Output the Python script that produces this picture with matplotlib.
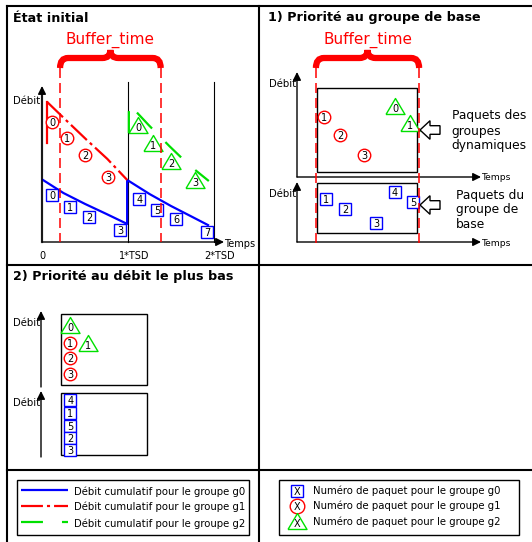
import matplotlib
matplotlib.use("Agg")
import matplotlib.pyplot as plt
from matplotlib.patches import PathPatch, Polygon, Rectangle
from matplotlib.path import Path
from matplotlib.transforms import Affine2D

plt.rcParams["font.family"] = ["DejaVu Sans"]
plt.rcParams["lines.scale_dashes"] = False

# ---- data: time in TSD units, débit in arbitrary units ----
# "État initial": cumulative débit per group
g0_t = [0.01, 0.25, 0.5, 0.75, 0.99, 0.99, 1.25, 1.5, 1.75, 1.93]
g0_debit = [3.88, 3.06, 2.38, 1.75, 1.13, 3.88, 3.0, 2.25, 1.56, 1.06]
g1_t = [0.06, 0.06, 0.29, 0.52, 0.76, 0.99]
g1_debit = [6.19, 8.75, 7.56, 6.38, 5.19, 3.88]
g2_t = [1.01, 1.01, 1.24, 1.48, 1.71, 1.94]
g2_debit = [6.81, 8.63, 7.31, 6.0, 4.81, 3.81]

# packets of the initial state (packet number = index)
init_g0_t = [0.12, 0.33, 0.55, 0.91, 1.13, 1.34, 1.56, 1.92]
init_g0_debit = [2.94, 2.19, 1.56, 0.75, 2.69, 2.0, 1.44, 0.63]
init_g1_t = [0.12, 0.29, 0.5, 0.77]
init_g1_debit = [7.5, 6.5, 5.44, 4.06]
init_g2_t = [1.12, 1.29, 1.5, 1.78]
init_g2_debit = [7.31, 6.19, 5.06, 3.88]

tick_t = [0, 1, 2]
tick_labels = ["0", "1*TSD", "2*TSD"]
buffer_init = (0.21, 1.38)

# "1) Priorité au groupe de base"
base_g1_ids = [1, 2, 3]
base_g1_t = [0.31, 0.5, 0.78]
base_g1_debit = [3.75, 2.63, 1.38]
base_g2_ids = [0, 1]
base_g2_t = [1.14, 1.31]
base_g2_debit = [4.44, 3.38]
base_g0_ids = [1, 2, 3, 4, 5]
base_g0_t = [0.34, 0.56, 0.92, 1.14, 1.35]
base_g0_debit = [2.69, 2.06, 1.19, 3.13, 2.5]
buffer_base = (0.22, 1.42)

# "2) Priorité au débit le plus bas"
low_g2_ids = [0, 1]
low_g2_t = [0.34, 0.55]
low_g2_debit = [3.88, 2.75]
low_g1_ids = [1, 2, 3]
low_g1_t = [0.34, 0.34, 0.34]
low_g1_debit = [2.75, 1.79, 0.81]
low_g0_ids = [4, 1, 5, 2, 3]
low_g0_t = [0.34, 0.34, 0.34, 0.34, 0.34]
low_g0_debit = [3.56, 2.73, 1.96, 1.17, 0.44]

BLUE = "#0000ff"
RED = "#ff0000"
GREEN = "#00e000"
RED_DASH = (15.8, 2.9, 2.2, 2.9)
GREEN_DASH = (15.8, 13.7)
TRI = [(-1, -0.84), (1, -0.84), (0, 0.84), (-1, -0.84)]

W, H = 532, 542
fig = plt.figure(figsize=(W / 100, H / 100), dpi=100)
ax = fig.add_axes([0, 0, 1, 1])
ax.set_xlim(0, W)
ax.set_ylim(H, 0)
ax.axis("off")


def panel(x0, y0, sx=86.0, sy=16.0):
    """(time, débit) -> figure pixels for one sketch."""
    return Affine2D().scale(sx, -sy).translate(x0, y0) + ax.transData


def to_px(tr, t, d):
    return ax.transData.inverted().transform(tr.transform((t, d)))


def arrow(x0, y0, x1, y1, color="black", lw=1.0):
    ax.annotate("", xy=(x1, y1), xytext=(x0, y0),
                arrowprops=dict(arrowstyle="-|>,head_length=0.6,head_width=0.3",
                                mutation_scale=8, color=color, lw=lw,
                                shrinkA=0, shrinkB=0))


def packets(tr, t, d, ids, kind, color):
    marker, ms, dy = {"s": ("s", 9, 0), "o": ("o", 9, 0),
                      "^": (TRI, 13.7, -1.5)}[kind]
    ax.plot(t, d, ls="none", marker=marker, ms=ms, mfc="white", mec=color,
            mew=1.0, transform=tr, zorder=4)
    for ti, di, k in zip(t, d, ids):
        ax.annotate(str(k), (ti, di), xycoords=tr, xytext=(0, dy),
                    textcoords="offset points", ha="center",
                    va="center_baseline", fontsize=7, zorder=5)


def brace_and_buffer(tr, interval, y_top, y_bottom):
    xl = to_px(tr, interval[0], 0)[0]
    xr = to_px(tr, interval[1], 0)[0]
    xm = (xl + xr) / 2
    yb, yh, yt = 68, 58, 50
    verts = [(xl, yb), (xl, yh), (xl + 8, yh), (xm - 8, yh), (xm, yh), (xm, yt),
             (xm, yh), (xm + 8, yh), (xr - 8, yh), (xr, yh), (xr, yb)]
    codes = [Path.MOVETO, Path.CURVE3, Path.CURVE3, Path.LINETO, Path.CURVE3,
             Path.CURVE3, Path.CURVE3, Path.CURVE3, Path.LINETO, Path.CURVE3,
             Path.CURVE3]
    ax.add_patch(PathPatch(Path(verts, codes), fc="none", ec=RED, lw=4.5,
                           capstyle="butt", zorder=3))
    ax.text(xm, 43.3, "Buffer_time", color=RED, fontsize=11, ha="center",
            va="baseline")
    for x in (xl, xr):
        ax.plot([x, x], [y_top, y_bottom], color=RED, lw=1.1,
                dashes=(7.2, 3.6), zorder=6)


def outline_arrow(x_tip, y):
    pts = [(x_tip, y), (x_tip + 10, y - 9.3), (x_tip + 10, y - 4.3),
           (x_tip + 20, y - 4.3), (x_tip + 20, y + 4.3), (x_tip + 10, y + 4.3),
           (x_tip + 10, y + 9.3)]
    ax.add_patch(Polygon(pts, closed=True, fc="white", ec="black", lw=1.0,
                         zorder=5))


# ---- frame ----
frame_kw = dict(color="black", lw=1.5, solid_capstyle="projecting")
ax.plot([6.7, 6.7], [6, 541], **frame_kw)
ax.plot([6.7, 531], [6, 6], **frame_kw)
ax.plot([259, 259], [6, 541], **frame_kw)
ax.plot([6.7, 531], [265, 265], **frame_kw)
ax.plot([6.7, 531], [470.3, 470.3], **frame_kw)

title_kw = dict(fontsize=9.2, fontweight="bold", va="baseline")
ax.text(13, 21.7, "État initial", **title_kw)
ax.text(268, 20.7, "1) Priorité au groupe de base", **title_kw)
ax.text(13, 280, "2) Priorité au débit le plus bas", **title_kw)

# ---- État initial ----
tr1 = panel(42, 242)
brace_and_buffer(tr1, buffer_init, 68, 242)
for t in (1, 2):
    ax.plot([t, t], [0, 10], color="black", lw=0.8, transform=tr1, zorder=1)
ax.plot([0, 0], [0, 9.5], color="#555555", lw=1.6, transform=tr1, zorder=1)
arrow(42, 242, 42, 86)
arrow(42, 242, 224, 242)
ax.text(40.7, 104, "Débit", fontsize=7.3, ha="right", va="baseline")
ax.text(224, 246.7, "Temps", fontsize=7, ha="left", va="baseline")
for t, lab in zip(tick_t, tick_labels):
    ax.annotate(lab, (t, 0), xycoords=tr1, xytext=(4.3 if t else 0, -12.5),
                textcoords="offset points", ha="center", va="baseline",
                fontsize=7)

ax.plot(g0_t, g0_debit, color=BLUE, lw=1.6, transform=tr1, zorder=2)
ax.plot(g1_t[:2], g1_debit[:2], color=RED, lw=1.6, transform=tr1, zorder=2)
ax.plot(g1_t[1:], g1_debit[1:], color=RED, lw=1.6, dashes=RED_DASH,
        transform=tr1, zorder=2)
ax.plot(g2_t, g2_debit, color=GREEN, lw=1.6, dashes=GREEN_DASH,
        transform=tr1, zorder=2)

packets(tr1, init_g0_t, init_g0_debit, range(len(init_g0_t)), "s", BLUE)
packets(tr1, init_g1_t, init_g1_debit, range(len(init_g1_t)), "o", RED)
packets(tr1, init_g2_t, init_g2_debit, range(len(init_g2_t)), "^", GREEN)

# ---- 1) Priorité au groupe de base ----
tr2a = panel(297, 177)
tr2b = panel(297, 242)
brace_and_buffer(tr2a, buffer_base, 68, 244)
ax.add_patch(Rectangle((317, 88), 100, 84, fc="none", ec="black", lw=1.0))
ax.add_patch(Rectangle((317, 183), 100, 50, fc="none", ec="black", lw=1.0))
arrow(297, 177, 297, 72)
arrow(297, 177, 481, 177)
arrow(297, 242, 297, 182)
arrow(297, 242, 481, 242)
ax.text(296, 86.7, "Débit", fontsize=7.3, ha="right", va="baseline")
ax.text(296, 196.7, "Débit", fontsize=7.3, ha="right", va="baseline")
ax.text(481.7, 180, "Temps", fontsize=6.6, ha="left", va="baseline")
ax.text(481.7, 246, "Temps", fontsize=6.6, ha="left", va="baseline")
packets(tr2a, base_g1_t, base_g1_debit, base_g1_ids, "o", RED)
packets(tr2a, base_g2_t, base_g2_debit, base_g2_ids, "^", GREEN)
packets(tr2b, base_g0_t, base_g0_debit, base_g0_ids, "s", BLUE)
outline_arrow(420, 130)
outline_arrow(420, 205)
ax.text(451.7, 131, "Paquets des\ngroupes\ndynamiques", fontsize=8.8,
        ha="left", va="center", linespacing=1.2)
ax.text(456, 210, "Paquets du\ngroupe de\nbase", fontsize=8.8,
        ha="left", va="center", linespacing=1.2)

# ---- 2) Priorité au débit le plus bas ----
tr3a = panel(41, 387)
tr3b = panel(41, 457)
ax.add_patch(Rectangle((61, 314), 86, 71, fc="none", ec="black", lw=1.0))
ax.add_patch(Rectangle((61, 393), 86, 62, fc="none", ec="black", lw=1.0))
arrow(41, 387, 41, 311)
arrow(41, 457, 41, 391)
ax.text(40, 326, "Débit", fontsize=7.3, ha="right", va="baseline")
ax.text(40, 405.7, "Débit", fontsize=7.3, ha="right", va="baseline")
packets(tr3a, low_g2_t, low_g2_debit, low_g2_ids, "^", GREEN)
packets(tr3a, low_g1_t, low_g1_debit, low_g1_ids, "o", RED)
packets(tr3b, low_g0_t, low_g0_debit, low_g0_ids, "s", BLUE)

# ---- legends ----
ax.add_patch(Rectangle((17, 479.5), 232.4, 55.5, fc="none", ec="black", lw=1.0))
ax.add_patch(Rectangle((279, 479.5), 239.5, 55.5, fc="none", ec="black", lw=1.0))
line_labels = ["Débit cumulatif pour le groupe g0",
               "Débit cumulatif pour le groupe g1",
               "Débit cumulatif pour le groupe g2"]
line_styles = [dict(color=BLUE), dict(color=RED, dashes=RED_DASH),
               dict(color=GREEN, dashes=GREEN_DASH)]
for y, lab, st in zip([490.4, 505.6, 522.3], line_labels, line_styles):
    ax.plot([21, 68], [y, y], lw=1.6, solid_capstyle="butt",
            dash_capstyle="butt", **st)
    ax.text(74, y, lab, fontsize=7.3, ha="left", va="center_baseline")

sym_labels = ["Numéro de paquet pour le groupe g0",
              "Numéro de paquet pour le groupe g1",
              "Numéro de paquet pour le groupe g2"]
sym_styles = [("s", 8.5, BLUE), ("o", 10.5, RED), (TRI, 13.7, GREEN)]
for y, lab, (mk, ms, c) in zip([491, 505.6, 521.3], sym_labels, sym_styles):
    ax.plot([297.3], [y], ls="none", marker=mk, ms=ms, mfc="white", mec=c,
            mew=1.0)
    ax.text(297.3, y + (1.5 if mk is TRI else 0), "X", fontsize=7,
            ha="center", va="center_baseline")
    ax.text(313.2, y - 1, lab, fontsize=7.3, ha="left", va="center_baseline")

fig.savefig("out.png", dpi=100)
